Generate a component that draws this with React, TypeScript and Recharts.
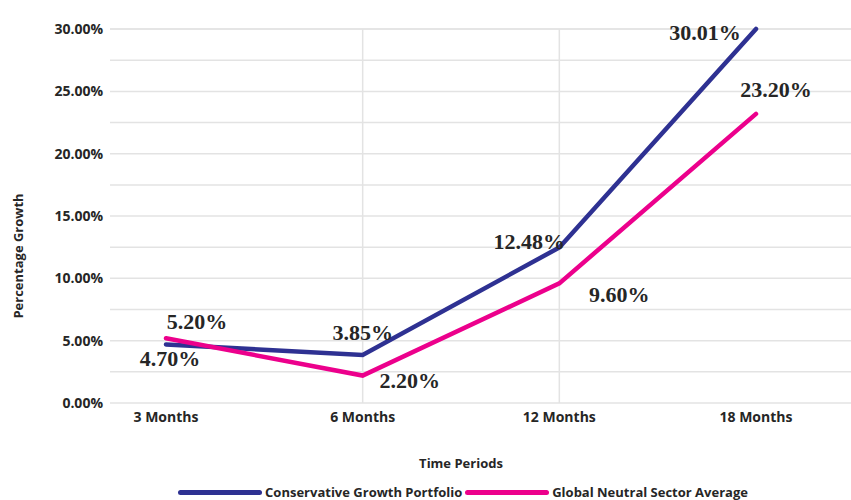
import {
  LineChart,
  Line,
  XAxis,
  YAxis,
  CartesianGrid,
  ReferenceLine,
  LabelList,
  Legend,
} from 'recharts';

const categories = ['3 Months', '6 Months', '12 Months', '18 Months'];
const conservativeGrowth = [4.7, 3.85, 12.48, 30.01];
const globalNeutral = [5.2, 2.2, 9.6, 23.2];
const yTicks = [0, 2.5, 5, 7.5, 10, 12.5, 15, 17.5, 20, 22.5, 25, 27.5, 30];
const gridCategories = ['6 Months', '12 Months'];

const SERIES = [
  { key: 'cgp', name: 'Conservative Growth Portfolio', color: '#2e3192' },
  { key: 'gns', name: 'Global Neutral Sector Average', color: '#ec008c' },
];

// label nudges (dx, dy) from each point
const cgpLabelOffsets = [[4, 14], [0, -23], [-30, -6], [-51, 3]];
const gnsLabelOffsets = [[31, -17], [47, 5], [60, 11], [20, -24]];

const SANS = "'Open Sans', 'Noto Sans', sans-serif";
const SERIF = "'Liberation Serif', 'Times New Roman', serif";
const TEXT = '#262626';
const PAD_LEFT = 56;
const PAD_RIGHT = 95;

const data = categories.map((period, i) => ({
  period,
  cgp: conservativeGrowth[i],
  gns: globalNeutral[i],
}));

const makeLabel = (offsets: number[][]) => (props: any) => {
  const { x, y, value, index } = props;
  const [dx, dy] = offsets[index] ?? [0, 0];
  return (
    <text
      x={x + dx}
      y={y + dy}
      textAnchor="middle"
      dominantBaseline="central"
      fontFamily={SERIF}
      fontWeight={700}
      fontSize={22}
      fill={TEXT}
    >
      {`${Number(value).toFixed(2)}%`}
    </text>
  );
};

const renderLegend = () => (
  <div
    style={{
      display: 'flex',
      justifyContent: 'center',
      alignItems: 'center',
      paddingLeft: 78,
      paddingTop: 20,
      fontFamily: SANS,
      fontWeight: 700,
      fontSize: 13,
      color: TEXT,
    }}
  >
    {SERIES.map((s) => (
      <span key={s.key} style={{ display: 'flex', alignItems: 'center', marginRight: 3 }}>
        <span
          style={{
            display: 'inline-block',
            width: 84,
            height: 5,
            borderRadius: 3,
            background: s.color,
            marginRight: 3,
          }}
        />
        {s.name}
      </span>
    ))}
  </div>
);

const YTitle = () => (
  <text
    x={18}
    y={256}
    transform="rotate(-90, 18, 256)"
    textAnchor="middle"
    dominantBaseline="central"
    fontFamily={SANS}
    fontWeight={700}
    fontSize={13}
    fill={TEXT}
  >
    Percentage Growth
  </text>
);

const XTitle = (props: any) => {
  const { viewBox } = props;
  const inner = viewBox.width - PAD_LEFT - PAD_RIGHT;
  const cx = viewBox.x + PAD_LEFT + inner / 2;
  return (
    <text
      x={cx}
      y={463}
      textAnchor="middle"
      dominantBaseline="central"
      fontFamily={SANS}
      fontWeight={700}
      fontSize={13}
      fill={TEXT}
    >
      Time Periods
    </text>
  );
};

export default function App() {
  return (
    <div style={{ position: 'absolute', left: 0, top: 0, width: 851, height: 500, background: '#fff' }}>
      <LineChart width={851} height={500} data={data} margin={{ top: 29, right: 0, left: 0, bottom: 0 }}>
        <CartesianGrid vertical={false} stroke="#e3e3e3" strokeWidth={1.5} />
        {gridCategories.map((c) => (
          <ReferenceLine key={c} x={c} stroke="#e3e3e3" strokeWidth={1.5} />
        ))}
        <XAxis
          dataKey="period"
          height={60}
          padding={{ left: PAD_LEFT, right: PAD_RIGHT }}
          axisLine={false}
          tickLine={false}
          tickSize={0}
          tickMargin={9}
          tick={{ fontFamily: SANS, fontWeight: 700, fontSize: 14, fill: TEXT }}
          label={<XTitle />}
        />
        <YAxis
          width={110}
          domain={[0, 30]}
          ticks={yTicks}
          interval={0}
          axisLine={false}
          tickLine={false}
          tickSize={0}
          tickMargin={7}
          tickFormatter={(v: number) => (v % 5 === 0 ? `${v.toFixed(2)}%` : '')}
          tick={{ fontFamily: SANS, fontWeight: 700, fontSize: 14, fill: TEXT }}
          label={<YTitle />}
        />
        <Legend verticalAlign="bottom" height={37} content={renderLegend} />
        <Line
          dataKey="cgp"
          name={SERIES[0].name}
          stroke={SERIES[0].color}
          strokeWidth={4.5}
          strokeLinecap="round"
          dot={false}
          activeDot={false}
          isAnimationActive={false}
        >
          <LabelList dataKey="cgp" content={makeLabel(cgpLabelOffsets)} />
        </Line>
        <Line
          dataKey="gns"
          name={SERIES[1].name}
          stroke={SERIES[1].color}
          strokeWidth={4.5}
          strokeLinecap="round"
          dot={false}
          activeDot={false}
          isAnimationActive={false}
        >
          <LabelList dataKey="gns" content={makeLabel(gnsLabelOffsets)} />
        </Line>
      </LineChart>
    </div>
  );
}
